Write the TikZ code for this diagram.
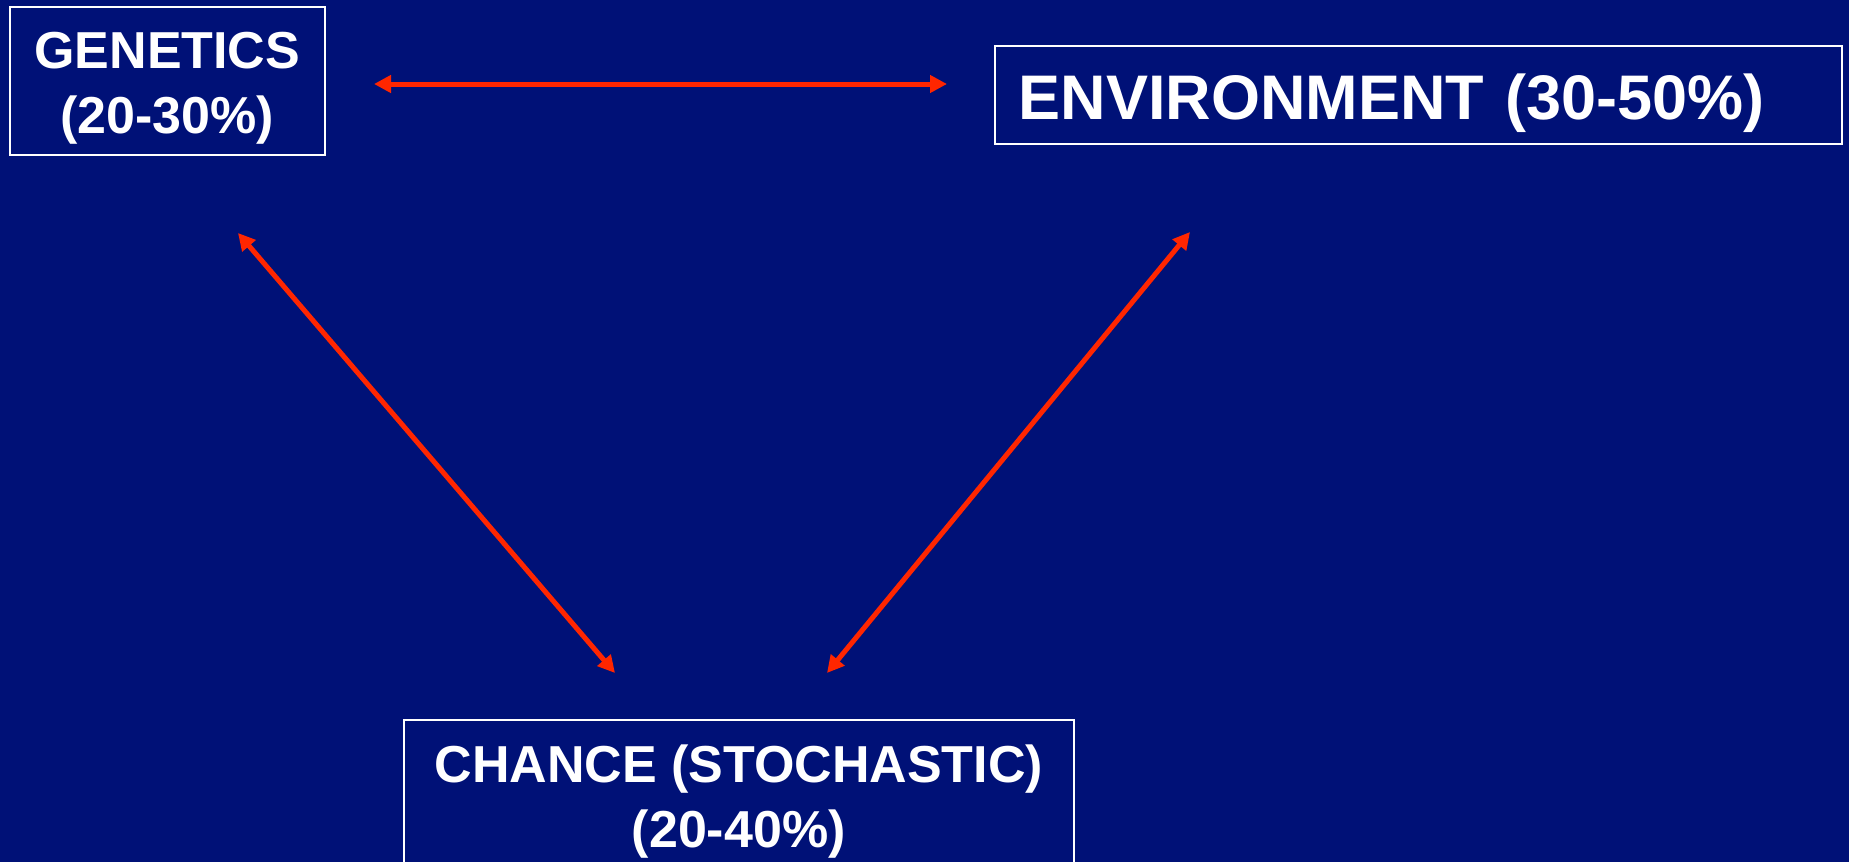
\documentclass[tikz,border=0pt]{standalone}
\usepackage{fontspec}
\setmainfont{Liberation Sans}
\usetikzlibrary{arrows.meta}
\definecolor{slidebg}{RGB}{0,17,119}
\definecolor{linkred}{RGB}{255,38,0}

\begin{document}
\begin{tikzpicture}[x=1pt,y=-1pt,factor/.style={draw=white,line width=1.5pt,text=white,inner sep=0pt,anchor=north west,font=\bfseries\fontsize{52}{65}\selectfont,align=center},link/.style={draw=linkred,line width=5pt,{Triangle[length=17pt,width=17pt]}-{Triangle[length=17pt,width=17pt]}}]
\fill[slidebg] (0,0) rectangle (1849,862);
\useasboundingbox (0,0) rectangle (1849,862);
\coordinate (GE) at (374,84);
\coordinate (EG) at (947,84);
\coordinate (GC) at (238,233);
\coordinate (CG) at (615,673);
\coordinate (EC) at (1190,232);
\coordinate (CE) at (827,673);
\draw[link] (GE) -- (EG);
\draw[link] (GC) -- (CG);
\draw[link] (EC) -- (CE);
\node[factor,minimum width=315pt,text height=127pt,text depth=21pt] (gen) at (9,6) {GENETICS\\(20-30\%)};
\node[factor,minimum width=847pt,text width=799pt,inner xsep=24pt,align=left,text height=74pt,text depth=24pt,font=\bfseries\fontsize{63}{76}\selectfont] (env) at (994,45) {ENVIRONMENT (30-50\%)};
\node[factor,minimum width=670pt,text height=128pt,text depth=21pt] (chance) at (403,719) {CHANCE (STOCHASTIC)\\(20-40\%)};
\end{tikzpicture}
\end{document}
